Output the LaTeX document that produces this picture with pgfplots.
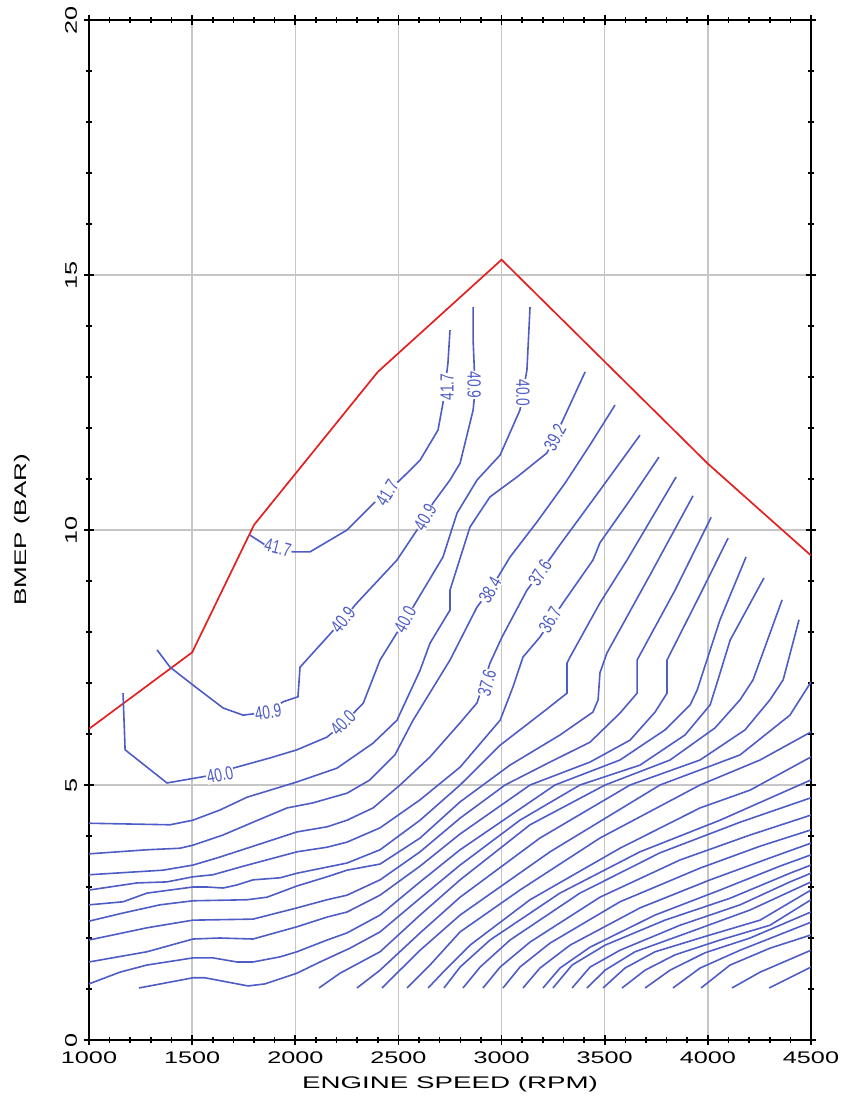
\documentclass[border=0pt]{standalone}
\usepackage{pgfplots}
\pgfplotsset{compat=1.18}
\usepackage{fontspec}
\setmainfont{Liberation Sans}
\definecolor{cblue}{RGB}{78,92,198}
\definecolor{cred}{RGB}{228,32,32}
\definecolor{gridgray}{RGB}{198,198,198}
% contour label: x, y, text, angle
\newcommand{\clab}[4]{\node[text=cblue,fill=white,inner sep=0.3pt,rotate=#4,font=\fontsize{9.5}{9.5}\selectfont] at (axis cs:#1,#2) {\scalebox{0.72}[1]{#3}};}
\newcommand{\wide}[1]{\scalebox{1.5}[1]{#1}}

\begin{document}
\begin{tikzpicture}
\path[use as bounding box] (-44.5pt,-29.5pt) rectangle (379pt,520pt);
\begin{axis}[
    at={(0,0)}, anchor=south west,
    scale only axis, width=361pt, height=510pt,
    xmin=1000, xmax=4500, ymin=0, ymax=20,
    xtick={1000,1500,2000,2500,3000,3500,4000,4500},
    ytick={0,5,10,15,20},
    xticklabels={\wide{1000},\wide{1500},\wide{2000},\wide{2500},\wide{3000},\wide{3500},\wide{4000},\wide{4500}},
    yticklabels={\wide{0},\wide{5},\wide{10},\wide{15},\wide{20}},
    minor x tick num=4, minor y tick num=4,
    grid=major, grid style={gridgray,line width=0.7pt},
    axis line style={line width=1.2pt},
    tick style={black,line width=0.8pt},
    major tick length=5pt, minor tick length=3pt,
    tick align=center,
    xticklabel style={font=\fontsize{8.4}{8.4}\selectfont},
    yticklabel style={font=\fontsize{8.4}{8.4}\selectfont,rotate=90,anchor=south},
    xlabel={\scalebox{1.65}[1]{ENGINE SPEED (RPM)}},
    ylabel={\scalebox{1.55}[1]{BMEP (BAR)}},
    xlabel style={font=\fontsize{8.4}{8.4}\selectfont,at={(axis description cs:0.5,-0.043)},anchor=center},
    ylabel style={font=\fontsize{8.4}{8.4}\selectfont,at={(axis description cs:-0.093,0.5)},anchor=center},
    cl/.style={cblue,line width=0.8pt,mark=none},
]
% full-load boundary
\addplot[cred,line width=0.85pt,mark=none] coordinates {
(1000,6.1) (1500,7.6) (1800,10.1) (2400,13.1) (3000,15.3) (3500,13.3) (4000,11.3) (4500,9.5)};

% 41.7
\addplot[cl] coordinates {(1780,9.90) (1853,9.71) (1989,9.57) (2071,9.57) (2251,10.0) (2411,10.65) (2508,10.98) (2605,11.37) (2692,11.96) (2716,12.49) (2740,13.27) (2750,13.92)};
% 40.9
\addplot[cl] coordinates {(1330,7.65) (1393,7.31) (1504,6.96) (1650,6.51) (1747,6.37) (1868,6.43) (1940,6.63) (2013,6.73) (2023,7.31) (2231,8.24) (2299,8.57) (2493,9.41) (2590,10.0) (2668,10.53) (2750,10.98) (2799,11.31) (2862,12.35) (2872,12.75) (2862,13.73) (2862,14.37)};
% 40.0
\addplot[cl] coordinates {(1165,6.80) (1175,5.69) (1378,5.04) (1635,5.22) (1698,5.33) (1877,5.53) (2008,5.69) (2154,5.94) (2231,6.2) (2329,6.6) (2411,7.45) (2532,8.24) (2571,8.49) (2716,9.47) (2784,10.33) (2881,10.98) (2993,11.47) (3089,12.35) (3104,12.69) (3123,13.14) (3138,14.37)};
% 39.2
\addplot[cl] coordinates {(1000,4.25) (1393,4.22) (1504,4.31) (1635,4.51) (1766,4.76) (2008,5.06) (2202,5.33) (2377,5.82) (2493,6.27) (2605,7.25) (2653,7.78) (2750,8.43) (2750,8.82) (2847,10.06) (2944,10.65) (3075,11.04) (3220,11.51) (3298,12.16) (3405,13.10)};
% 38.4
\addplot[cl] coordinates {(1000,3.65) (1281,3.73) (1441,3.76) (1504,3.82) (1650,4.02) (1795,4.27) (1960,4.55) (2086,4.65) (2251,4.84) (2362,5.10) (2483,5.59) (2571,6.27) (2750,7.45) (2881,8.49) (2944,8.82) (3041,9.47) (3172,10.16) (3308,10.92) (3429,11.67) (3550,12.45)};
% 37.6
\addplot[cl] coordinates {(1000,3.24) (1359,3.33) (1504,3.43) (1621,3.57) (1766,3.76) (2008,4.08) (2154,4.18) (2251,4.31) (2377,4.55) (2508,5.0) (2653,5.55) (2799,6.22) (2881,6.61) (2944,7.39) (3002,7.90) (3123,8.82) (3186,9.16) (3283,9.71) (3477,10.78) (3671,11.86)};
% 36.7
\addplot[cl] coordinates {(1000,2.94) (1233,3.08) (1378,3.10) (1504,3.20) (1601,3.24) (1732,3.39) (2008,3.69) (2154,3.78) (2251,3.88) (2411,4.16) (2605,4.71) (2799,5.35) (2993,6.27) (3055,6.92) (3104,7.51) (3186,7.90) (3298,8.57) (3443,9.41) (3477,9.75) (3623,10.59) (3763,11.43)};
% 35.9
\addplot[cl] coordinates {(1000,2.65) (1165,2.71) (1281,2.88) (1504,3.00) (1572,3.00) (1650,2.98) (1717,3.04) (1795,3.14) (1926,3.18) (2008,3.27) (2154,3.39) (2251,3.47) (2411,3.73) (2605,4.31) (2799,5.00) (2993,5.78) (3201,6.43) (3317,6.80) (3317,7.39) (3332,7.51) (3477,8.57) (3608,9.41) (3846,11.04)};
% 35.1
\addplot[cl] coordinates {(1000,2.33) (1165,2.49) (1344,2.65) (1504,2.73) (1766,2.75) (1863,2.80) (2008,3.02) (2154,3.20) (2251,3.33) (2411,3.45) (2605,3.96) (2799,4.67) (3041,5.39) (3283,5.98) (3443,6.43) (3468,6.67) (3477,7.20) (3511,7.59) (3720,9.12) (3928,10.67)};
% 34.2
\addplot[cl] coordinates {(1000,1.96) (1281,2.20) (1504,2.35) (1795,2.37) (2008,2.59) (2154,2.75) (2251,2.84) (2411,3.14) (2605,3.69) (2799,4.35) (3017,5.00) (3235,5.45) (3429,5.84) (3574,6.41) (3657,6.80) (3657,7.45) (3841,8.82) (4016,10.25)};
% 33.4
\addplot[cl] coordinates {(1000,1.53) (1281,1.73) (1504,1.98) (1635,2.0) (1795,1.98) (2008,2.22) (2154,2.41) (2251,2.51) (2411,2.84) (2605,3.41) (2799,4.04) (3138,5.0) (3429,5.45) (3623,5.88) (3744,6.43) (3802,6.80) (3802,7.45) (3962,8.73) (4098,9.84)};
% 32.6
\addplot[cl] coordinates {(1000,1.10) (1150,1.33) (1281,1.47) (1504,1.61) (1601,1.61) (1717,1.53) (1795,1.53) (1926,1.63) (2008,1.73) (2154,1.96) (2251,2.10) (2411,2.45) (2605,3.10) (2799,3.73) (3259,5.0) (3574,5.49) (3792,6.08) (3914,6.57) (3948,6.86) (4059,8.24) (4185,9.47)};
% 31.7
\addplot[cl] coordinates {(1242,1.02) (1504,1.22) (1562,1.22) (1771,1.06) (1853,1.10) (2008,1.31) (2120,1.53) (2265,1.80) (2411,2.12) (2605,2.78) (2799,3.43) (3089,4.31) (3380,5.0) (3671,5.39) (3889,5.98) (4011,6.57) (4049,7.06) (4108,7.84) (4272,9.06)};
% lower family
\addplot[cl] coordinates {(2115,1.02) (2217,1.31) (2411,1.73) (2605,2.45) (2799,3.14) (3138,4.22) (3502,5.0) (3817,5.49) (4035,6.12) (4156,6.67) (4219,7.06) (4360,8.63)};
\addplot[cl] coordinates {(2299,1.02) (2411,1.37) (2605,2.10) (2799,2.80) (3186,3.96) (3623,5.0) (3962,5.49) (4180,6.08) (4301,6.67) (4365,7.06) (4442,8.24)};
\addplot[cl] coordinates {(2420,1.02) (2605,1.76) (2799,2.45) (3235,3.69) (3768,5.0) (4156,5.59) (4398,6.37) (4500,7.02)};
\addplot[cl] coordinates {(2542,1.02) (2653,1.47) (2799,2.12) (3089,2.94) (3477,3.96) (3962,5.0) (4253,5.49) (4500,6.04)};
\addplot[cl] coordinates {(2644,1.02) (2726,1.37) (2847,1.86) (3138,2.75) (3574,3.76) (3962,4.55) (4205,4.90) (4500,5.55)};
\addplot[cl] coordinates {(2721,1.02) (2799,1.43) (2944,1.96) (3283,2.88) (3671,3.69) (4059,4.31) (4500,5.10)};
\addplot[cl] coordinates {(2813,1.02) (2896,1.43) (3041,1.96) (3380,2.88) (3768,3.67) (4156,4.27) (4500,4.75)};
\addplot[cl] coordinates {(2910,1.02) (2993,1.43) (3138,1.92) (3477,2.80) (3865,3.53) (4205,4.02) (4500,4.41)};
\addplot[cl] coordinates {(3007,1.02) (3089,1.43) (3235,1.90) (3574,2.71) (3962,3.37) (4253,3.80) (4500,4.12)};
\addplot[cl] coordinates {(3104,1.02) (3186,1.41) (3332,1.86) (3671,2.59) (4011,3.14) (4301,3.57) (4500,3.86)};
\addplot[cl] coordinates {(3201,1.02) (3283,1.41) (3429,1.82) (3744,2.45) (4059,2.94) (4350,3.41) (4500,3.63)};
\addplot[cl] coordinates {(3249,1.02) (3342,1.47) (3502,1.86) (3792,2.35) (4108,2.78) (4398,3.27) (4500,3.43)};
\addplot[cl] coordinates {(3342,1.02) (3429,1.43) (3574,1.76) (3865,2.25) (4156,2.65) (4398,3.10) (4500,3.27)};
\addplot[cl] coordinates {(3414,1.02) (3502,1.37) (3647,1.73) (3914,2.12) (4205,2.55) (4500,3.10)};
\addplot[cl] coordinates {(3492,1.02) (3598,1.41) (3744,1.73) (4011,2.06) (4253,2.35) (4500,2.94)};
\addplot[cl] coordinates {(3584,1.02) (3696,1.37) (3841,1.67) (4059,1.96) (4301,2.25) (4500,2.75)};
\addplot[cl] coordinates {(3696,1.02) (3817,1.37) (3986,1.71) (4205,2.0) (4500,2.51)};
\addplot[cl] coordinates {(3831,1.02) (3962,1.41) (4156,1.76) (4500,2.31)};
\addplot[cl] coordinates {(3967,1.02) (4108,1.47) (4301,1.80) (4500,2.06)};
\addplot[cl] coordinates {(4117,1.02) (4253,1.33) (4500,1.76)};
\addplot[cl] coordinates {(4297,1.02) (4500,1.43)};

% contour labels
\clab{1916}{9.65}{41.7}{-14}
\clab{2445}{10.73}{41.7}{58}
\clab{2736}{12.80}{41.7}{90}
\clab{1868}{6.43}{40.9}{8}
\clab{2231}{8.24}{40.9}{50}
\clab{2629}{10.25}{40.9}{60}
\clab{2867}{12.84}{40.9}{-90}
\clab{1635}{5.20}{40.0}{12}
\clab{2231}{6.22}{40.0}{45}
\clab{2532}{8.24}{40.0}{62}
\clab{3104}{12.69}{40.0}{-90}
\clab{3259}{11.82}{39.2}{62}
\clab{2944}{8.82}{38.4}{60}
\clab{3186}{9.16}{37.6}{58}
\clab{2929}{7.0}{37.6}{75}
\clab{3235}{8.24}{36.7}{60}
\end{axis}
\end{tikzpicture}
\end{document}
